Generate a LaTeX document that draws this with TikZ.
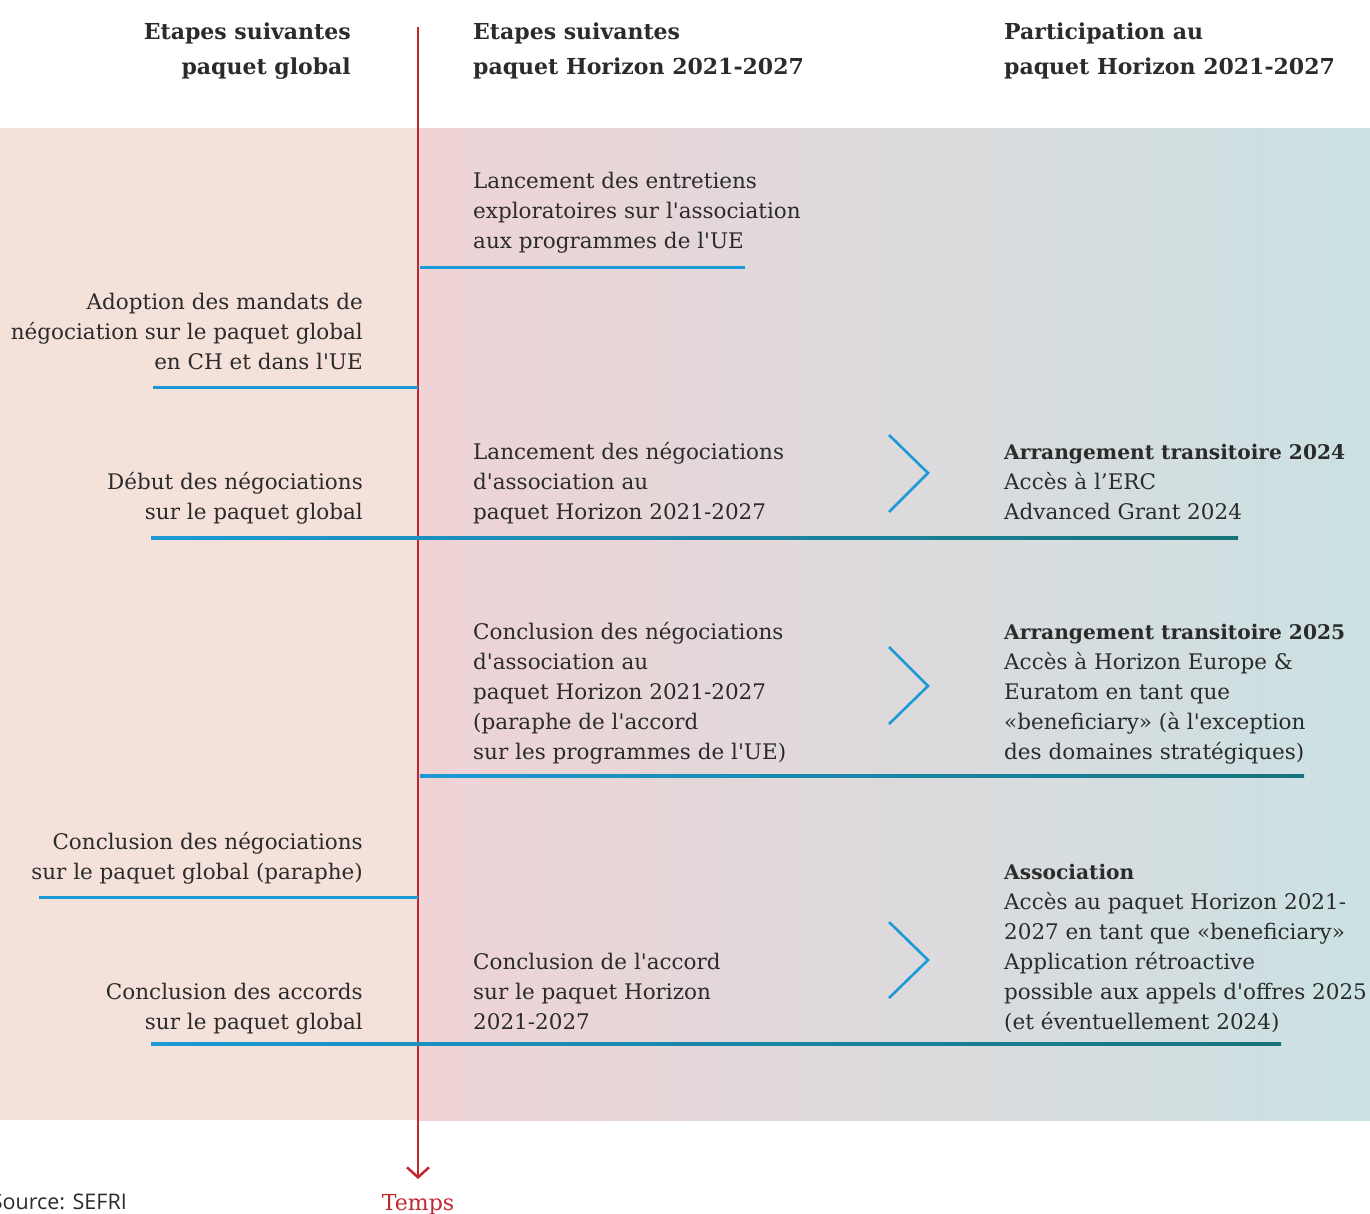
\documentclass[tikz,border=0pt]{standalone}
\usepackage{fontspec}
\setmainfont{DejaVu Serif}[Ligatures=TeXOff]
\newfontfamily\srcfont{Open Sans}
\usetikzlibrary{arrows.meta}
\definecolor{txtc}{HTML}{2B2B2B}
\definecolor{leftbg}{HTML}{F4E1D9}
\definecolor{midL}{HTML}{EFD3D5}
\definecolor{midR}{HTML}{CBE1E3}
\definecolor{lblue}{HTML}{1B9AD7}
\definecolor{lteal}{HTML}{17747B}
\definecolor{redc}{HTML}{C1272D}
\newcommand\bodyfnt{\fontsize{21.5}{30}\selectfont}
\newcommand\boldln[1]{{\fontsize{20.2}{30}\selectfont\bfseries #1}}
\newcommand\headfnt{\fontsize{22}{35}\selectfont\bfseries}
\tikzset{
  lt/.style={inner sep=0pt, anchor=north east, align=right, font=\bodyfnt, text=txtc},
  mt/.style={inner sep=0pt, anchor=north west, align=left, font=\bodyfnt, text=txtc},
  hdl/.style={inner sep=0pt, anchor=north east, align=right, font=\headfnt, text=txtc},
  hdr/.style={inner sep=0pt, anchor=north west, align=left, font=\headfnt, text=txtc},
  uline/.style={draw=lblue, line width=3pt},
  chev/.style={draw=lblue, line width=2.6pt},
  gline/.style={left color=lblue, right color=lteal}
}
\begin{document}
\begin{tikzpicture}[x=1pt,y=-1pt]
\useasboundingbox (0,0) rectangle (1370,1213);
% backgrounds
\fill[leftbg] (0,128) rectangle (418,1120);
\shade[left color=midL, right color=midR] (418,128) rectangle (1370,1120);

% headers
\node[hdl] (h1) at (351,14.5) {\strut Etapes suivantes\\paquet global};
\node[hdr] (h2) at (473,14.5) {\strut Etapes suivantes\\paquet Horizon 2021-2027};
\node[hdr] (h3) at (1004,14.5) {\strut Participation au\\paquet Horizon 2021-2027};

% timeline axis
\coordinate (axtop) at (418,27);
\coordinate (axbot) at (418,1179);
\draw[redc, line width=2.5pt, -{Straight Barb[length=10pt,width=22pt,line width=2.5pt]}] (axtop) -- (axbot);
\node[text=redc, font=\fontsize{22}{26}\selectfont, inner sep=0pt, anchor=base] (temps) at (418,1210) {Temps};
\node[text=txtc, font=\srcfont\fontsize{21.5}{26}\selectfont, inner sep=0pt, anchor=base east] (src) at (127,1209) {Source: SEFRI};

% item 1
\node[mt] (m1) at (473,167) {\strut Lancement des entretiens\\exploratoires sur l'association\\aux programmes de l'UE};
\draw[uline] (420,267) -- (745,267);

% item 2
\node[lt] (l2) at (363,288) {\strut Adoption des mandats de\\négociation sur le paquet global\\en CH et dans l'UE};
\draw[uline] (153,387) -- (418,387);

% item 3
\node[lt] (l3) at (363,468) {\strut Début des négociations\\sur le paquet global};
\node[mt] (m3) at (473,438) {\strut Lancement des négociations\\d'association au\\paquet Horizon 2021-2027};
\node[mt] (r3) at (1004,438) {\strut\boldln{Arrangement transitoire 2024}\\Accès à l’ERC\\Advanced Grant 2024};
\draw[chev] (889,435) -- (928,473) -- (889,512);
\shade[gline] (151,536.5) rectangle (1238,539.5);

% item 4
\node[mt] (m4) at (473,618) {\strut Conclusion des négociations\\d'association au\\paquet Horizon 2021-2027\\(paraphe de l'accord\\sur les programmes de l'UE)};
\node[mt] (r4) at (1004,618) {\strut\boldln{Arrangement transitoire 2025}\\Accès à Horizon Europe \&\\Euratom en tant que\\«beneficiary» (à l'exception\\des domaines stratégiques)};
\draw[chev] (889,647) -- (928,686) -- (889,724);
\shade[gline] (420,774.5) rectangle (1304,777.5);

% item 5
\node[lt] (l5) at (363,828) {\strut Conclusion des négociations\\sur le paquet global (paraphe)};
\draw[uline] (39,897) -- (418,897);

% item 6
\node[lt] (l6) at (363,978) {\strut Conclusion des accords\\sur le paquet global};
\node[mt] (m6) at (473,948) {\strut Conclusion de l'accord\\sur le paquet Horizon\\2021-2027};
\node[mt] (r6) at (1004,858) {\strut\boldln{Association}\\Accès au paquet Horizon 2021-\\2027 en tant que «beneficiary»\\Application rétroactive\\possible aux appels d'offres 2025\\(et éventuellement 2024)};
\draw[chev] (889,922) -- (928,960) -- (889,998);
\shade[gline] (151,1042.5) rectangle (1281,1045.5);
\end{tikzpicture}
\end{document}
